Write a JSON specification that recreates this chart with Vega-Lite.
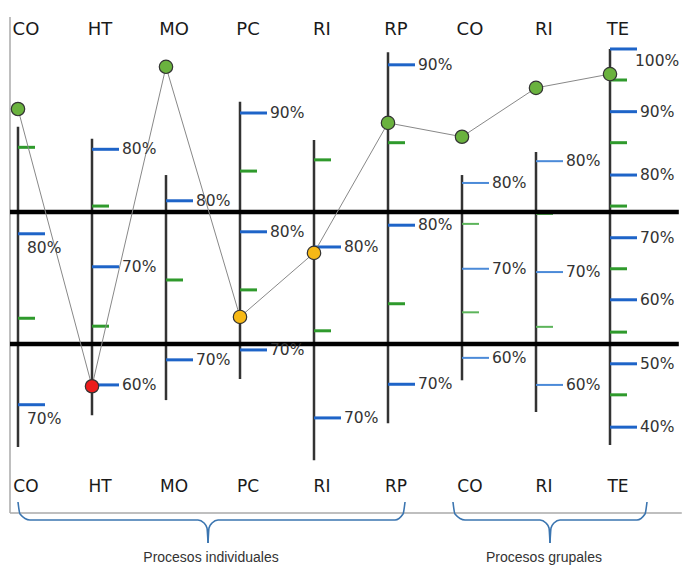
{
  "$schema": "https://vega.github.io/schema/vega-lite/v6.json",
  "width": 700,
  "height": 574,
  "autosize": {"type": "fit", "contains": "padding"},
  "padding": 0,
  "background": "white",
  "config": {"view": {"stroke": null}},
  "datasets": {
    "columnas": [
      {"id": "CO_i", "label": "CO", "idx": 0, "grupo": "Procesos individuales", "lo": 24.4, "hi": 72.9, "valor": 75.6, "nivel": "alto"},
      {"id": "HT", "label": "HT", "idx": 1, "grupo": "Procesos individuales", "lo": 29.2, "hi": 71.1, "valor": 33.6, "nivel": "bajo"},
      {"id": "MO", "label": "MO", "idx": 2, "grupo": "Procesos individuales", "lo": 31.5, "hi": 65.6, "valor": 82.0, "nivel": "alto"},
      {"id": "PC", "label": "PC", "idx": 3, "grupo": "Procesos individuales", "lo": 34.7, "hi": 76.7, "valor": 44.1, "nivel": "medio"},
      {"id": "RI_i", "label": "RI", "idx": 4, "grupo": "Procesos individuales", "lo": 22.4, "hi": 70.9, "valor": 53.8, "nivel": "medio"},
      {"id": "RP", "label": "RP", "idx": 5, "grupo": "Procesos individuales", "lo": 28.0, "hi": 84.2, "valor": 73.5, "nivel": "alto"},
      {"id": "CO_g", "label": "CO", "idx": 6, "grupo": "Procesos grupales", "lo": 34.5, "hi": 65.6, "valor": 71.4, "nivel": "alto"},
      {"id": "RI_g", "label": "RI", "idx": 7, "grupo": "Procesos grupales", "lo": 29.7, "hi": 69.1, "valor": 78.8, "nivel": "alto"},
      {"id": "TE", "label": "TE", "idx": 8, "grupo": "Procesos grupales", "lo": 24.7, "hi": 84.7, "valor": 80.9, "nivel": "alto"}
    ],
    "marcas": [
      {"id": "CO_i", "idx": 0, "kind": "menor", "y": 69.8, "label": ""},
      {"id": "CO_i", "idx": 0, "kind": "mayor", "y": 56.7, "label": "80%"},
      {"id": "CO_i", "idx": 0, "kind": "menor", "y": 43.9, "label": ""},
      {"id": "CO_i", "idx": 0, "kind": "mayor", "y": 30.8, "label": "70%"},
      {"id": "HT", "idx": 1, "kind": "mayor", "y": 69.5, "label": "80%"},
      {"id": "HT", "idx": 1, "kind": "menor", "y": 60.9, "label": ""},
      {"id": "HT", "idx": 1, "kind": "mayor", "y": 51.7, "label": "70%"},
      {"id": "HT", "idx": 1, "kind": "menor", "y": 42.7, "label": ""},
      {"id": "HT", "idx": 1, "kind": "mayor", "y": 33.8, "label": "60%"},
      {"id": "MO", "idx": 2, "kind": "mayor", "y": 61.7, "label": "80%"},
      {"id": "MO", "idx": 2, "kind": "menor", "y": 49.7, "label": ""},
      {"id": "MO", "idx": 2, "kind": "mayor", "y": 37.6, "label": "70%"},
      {"id": "PC", "idx": 3, "kind": "mayor", "y": 75.0, "label": "90%"},
      {"id": "PC", "idx": 3, "kind": "menor", "y": 66.2, "label": ""},
      {"id": "PC", "idx": 3, "kind": "mayor", "y": 57.0, "label": "80%"},
      {"id": "PC", "idx": 3, "kind": "menor", "y": 48.2, "label": ""},
      {"id": "PC", "idx": 3, "kind": "mayor", "y": 39.1, "label": "70%"},
      {"id": "RI_i", "idx": 4, "kind": "menor", "y": 67.9, "label": ""},
      {"id": "RI_i", "idx": 4, "kind": "mayor", "y": 54.7, "label": "80%"},
      {"id": "RI_i", "idx": 4, "kind": "menor", "y": 42.0, "label": ""},
      {"id": "RI_i", "idx": 4, "kind": "mayor", "y": 28.8, "label": "70%"},
      {"id": "RP", "idx": 5, "kind": "mayor", "y": 82.3, "label": "90%"},
      {"id": "RP", "idx": 5, "kind": "menor", "y": 70.5, "label": ""},
      {"id": "RP", "idx": 5, "kind": "mayor", "y": 58.0, "label": "80%"},
      {"id": "RP", "idx": 5, "kind": "menor", "y": 46.1, "label": ""},
      {"id": "RP", "idx": 5, "kind": "mayor", "y": 33.9, "label": "70%"},
      {"id": "CO_g", "idx": 6, "kind": "mayor", "y": 64.4, "label": "80%"},
      {"id": "CO_g", "idx": 6, "kind": "menor", "y": 58.2, "label": ""},
      {"id": "CO_g", "idx": 6, "kind": "mayor", "y": 51.4, "label": "70%"},
      {"id": "CO_g", "idx": 6, "kind": "menor", "y": 44.8, "label": ""},
      {"id": "CO_g", "idx": 6, "kind": "mayor", "y": 37.9, "label": "60%"},
      {"id": "RI_g", "idx": 7, "kind": "mayor", "y": 67.7, "label": "80%"},
      {"id": "RI_g", "idx": 7, "kind": "menor", "y": 59.7, "label": ""},
      {"id": "RI_g", "idx": 7, "kind": "mayor", "y": 50.9, "label": "70%"},
      {"id": "RI_g", "idx": 7, "kind": "menor", "y": 42.6, "label": ""},
      {"id": "RI_g", "idx": 7, "kind": "mayor", "y": 33.8, "label": "60%"},
      {"id": "TE", "idx": 8, "kind": "mayor", "y": 84.7, "label": "100%"},
      {"id": "TE", "idx": 8, "kind": "menor", "y": 80.0, "label": ""},
      {"id": "TE", "idx": 8, "kind": "mayor", "y": 75.2, "label": "90%"},
      {"id": "TE", "idx": 8, "kind": "menor", "y": 70.5, "label": ""},
      {"id": "TE", "idx": 8, "kind": "mayor", "y": 65.6, "label": "80%"},
      {"id": "TE", "idx": 8, "kind": "menor", "y": 60.9, "label": ""},
      {"id": "TE", "idx": 8, "kind": "mayor", "y": 56.1, "label": "70%"},
      {"id": "TE", "idx": 8, "kind": "menor", "y": 51.4, "label": ""},
      {"id": "TE", "idx": 8, "kind": "mayor", "y": 46.7, "label": "60%"},
      {"id": "TE", "idx": 8, "kind": "menor", "y": 41.8, "label": ""},
      {"id": "TE", "idx": 8, "kind": "mayor", "y": 37.0, "label": "50%"},
      {"id": "TE", "idx": 8, "kind": "menor", "y": 32.3, "label": ""},
      {"id": "TE", "idx": 8, "kind": "mayor", "y": 27.4, "label": "40%"}
    ],
    "limites": [
      {"limite": "superior", "y": 60},
      {"limite": "inferior", "y": 40}
    ],
    "llaves": [
      {"tramo": "ind_izq", "o": 0, "x": 0.0, "y": 16.06},
      {"tramo": "ind_izq", "o": 1, "x": 0.027, "y": 14.24},
      {"tramo": "ind_izq", "o": 2, "x": 0.162, "y": 13.33},
      {"tramo": "ind_izq", "o": 3, "x": 2.432, "y": 13.33},
      {"tramo": "ind_izq", "o": 4, "x": 2.514, "y": 12.88},
      {"tramo": "ind_izq", "o": 5, "x": 2.554, "y": 12.12},
      {"tramo": "ind_izq", "o": 6, "x": 2.568, "y": 9.85},
      {"tramo": "ind_der", "o": 0, "x": 2.568, "y": 9.85},
      {"tramo": "ind_der", "o": 1, "x": 2.581, "y": 12.12},
      {"tramo": "ind_der", "o": 2, "x": 2.622, "y": 12.88},
      {"tramo": "ind_der", "o": 3, "x": 2.703, "y": 13.33},
      {"tramo": "ind_der", "o": 4, "x": 5.095, "y": 13.33},
      {"tramo": "ind_der", "o": 5, "x": 5.203, "y": 14.24},
      {"tramo": "ind_der", "o": 6, "x": 5.230, "y": 16.06},
      {"tramo": "grp_izq", "o": 0, "x": 5.878, "y": 16.06},
      {"tramo": "grp_izq", "o": 1, "x": 5.905, "y": 14.24},
      {"tramo": "grp_izq", "o": 2, "x": 6.041, "y": 13.33},
      {"tramo": "grp_izq", "o": 3, "x": 7.054, "y": 13.33},
      {"tramo": "grp_izq", "o": 4, "x": 7.135, "y": 12.88},
      {"tramo": "grp_izq", "o": 5, "x": 7.176, "y": 12.12},
      {"tramo": "grp_izq", "o": 6, "x": 7.189, "y": 9.85},
      {"tramo": "grp_der", "o": 0, "x": 7.189, "y": 9.85},
      {"tramo": "grp_der", "o": 1, "x": 7.203, "y": 12.12},
      {"tramo": "grp_der", "o": 2, "x": 7.243, "y": 12.88},
      {"tramo": "grp_der", "o": 3, "x": 7.324, "y": 13.33},
      {"tramo": "grp_der", "o": 4, "x": 8.365, "y": 13.33},
      {"tramo": "grp_der", "o": 5, "x": 8.473, "y": 14.24},
      {"tramo": "grp_der", "o": 6, "x": 8.500, "y": 16.06}
    ]
  },
  "layer": [
    {
      "data": {"values": [{}]},
      "mark": {"type": "rule", "color": "#aaaaaa", "strokeWidth": 1.5},
      "encoding": {
        "x": {"datum": -0.108, "type": "quantitative", "scale": {"domain": [-0.2432, 9.2162], "nice": false, "zero": false}, "axis": null},
        "y": {"datum": 89.55, "type": "quantitative", "scale": {"domain": [5.152, 92.121], "nice": false, "zero": false}, "axis": null},
        "y2": {"datum": 14.39}
      }
    },
    {
      "data": {"values": [{}]},
      "mark": {"type": "rule", "color": "#aaaaaa", "strokeWidth": 1.5},
      "encoding": {
        "x": {"datum": -0.108, "type": "quantitative", "scale": {"domain": [-0.2432, 9.2162], "nice": false, "zero": false}, "axis": null},
        "x2": {"datum": 8.97},
        "y": {"datum": 14.39, "type": "quantitative", "scale": {"domain": [5.152, 92.121], "nice": false, "zero": false}, "axis": null}
      }
    },
    {
      "data": {"name": "columnas"},
      "mark": {"type": "rule", "color": "#333333", "strokeWidth": 2.5},
      "encoding": {
        "x": {"field": "idx", "type": "quantitative", "scale": {"domain": [-0.2432, 9.2162], "nice": false, "zero": false}, "axis": null},
        "y": {"field": "lo", "type": "quantitative", "scale": {"domain": [5.152, 92.121], "nice": false, "zero": false}, "axis": null},
        "y2": {"field": "hi"}
      }
    },
    {
      "data": {"name": "marcas"},
      "transform": [{"filter": "datum.kind == 'mayor' && datum.idx != 6 && datum.idx != 7"}],
      "mark": {"type": "rule", "color": "#1e64c8", "strokeWidth": 3, "x2Offset": 27},
      "encoding": {
        "x": {"field": "idx", "type": "quantitative", "axis": null},
        "x2": {"field": "idx"},
        "y": {"field": "y", "type": "quantitative", "axis": null}
      }
    },
    {
      "data": {"name": "marcas"},
      "transform": [{"filter": "datum.kind == 'menor' && datum.idx != 6 && datum.idx != 7"}],
      "mark": {"type": "rule", "color": "#2f9a2c", "strokeWidth": 3, "x2Offset": 17},
      "encoding": {
        "x": {"field": "idx", "type": "quantitative", "axis": null},
        "x2": {"field": "idx"},
        "y": {"field": "y", "type": "quantitative", "axis": null}
      }
    },
    {
      "data": {"name": "marcas"},
      "transform": [{"filter": "datum.kind == 'mayor' && (datum.idx == 6 || datum.idx == 7)"}],
      "mark": {"type": "rule", "color": "#4b8ad8", "strokeWidth": 2, "x2Offset": 27},
      "encoding": {
        "x": {"field": "idx", "type": "quantitative", "axis": null},
        "x2": {"field": "idx"},
        "y": {"field": "y", "type": "quantitative", "axis": null}
      }
    },
    {
      "data": {"name": "marcas"},
      "transform": [{"filter": "datum.kind == 'menor' && (datum.idx == 6 || datum.idx == 7)"}],
      "mark": {"type": "rule", "color": "#5cb45a", "strokeWidth": 2, "x2Offset": 17},
      "encoding": {
        "x": {"field": "idx", "type": "quantitative", "axis": null},
        "x2": {"field": "idx"},
        "y": {"field": "y", "type": "quantitative", "axis": null}
      }
    },
    {
      "data": {"name": "limites"},
      "mark": {"type": "rule", "color": "#000000", "strokeWidth": 4.5},
      "encoding": {
        "x": {"datum": -0.108, "type": "quantitative", "axis": null},
        "x2": {"datum": 8.93},
        "y": {"field": "y", "type": "quantitative", "axis": null}
      }
    },
    {
      "data": {"name": "columnas"},
      "mark": {"type": "line", "color": "#888888", "strokeWidth": 1},
      "encoding": {
        "x": {"field": "idx", "type": "quantitative", "axis": null},
        "y": {"field": "valor", "type": "quantitative", "axis": null},
        "order": {"field": "idx"}
      }
    },
    {
      "data": {"name": "columnas"},
      "mark": {"type": "circle", "size": 180, "opacity": 1, "stroke": "#333333", "strokeWidth": 1.2},
      "encoding": {
        "x": {"field": "idx", "type": "quantitative", "axis": null},
        "y": {"field": "valor", "type": "quantitative", "axis": null},
        "color": {"field": "nivel", "type": "nominal", "scale": {"domain": ["alto", "medio", "bajo"], "range": ["#6ab23e", "#f7b916", "#ec1c1c"]}, "legend": null}
      }
    },
    {
      "data": {"name": "marcas"},
      "transform": [{"filter": "datum.label != '' && datum.id != 'CO_i' && datum.label != '100%'"}],
      "mark": {"type": "text", "align": "left", "baseline": "middle", "dx": 30, "font": "DejaVu Sans", "fontSize": 15.5, "color": "#333333"},
      "encoding": {
        "x": {"field": "idx", "type": "quantitative", "axis": null},
        "y": {"field": "y", "type": "quantitative", "axis": null},
        "text": {"field": "label"}
      }
    },
    {
      "data": {"name": "marcas"},
      "transform": [{"filter": "datum.label != '' && datum.id == 'CO_i'"}],
      "mark": {"type": "text", "align": "left", "baseline": "middle", "dx": 9, "dy": 14, "font": "DejaVu Sans", "fontSize": 15.5, "color": "#333333"},
      "encoding": {
        "x": {"field": "idx", "type": "quantitative", "axis": null},
        "y": {"field": "y", "type": "quantitative", "axis": null},
        "text": {"field": "label"}
      }
    },
    {
      "data": {"name": "marcas"},
      "transform": [{"filter": "datum.label == '100%'"}],
      "mark": {"type": "text", "align": "left", "baseline": "middle", "dx": 25, "dy": 12, "font": "DejaVu Sans", "fontSize": 15.5, "color": "#333333"},
      "encoding": {
        "x": {"field": "idx", "type": "quantitative", "axis": null},
        "y": {"field": "y", "type": "quantitative", "axis": null},
        "text": {"field": "label"}
      }
    },
    {
      "data": {"name": "columnas"},
      "mark": {"type": "text", "align": "center", "baseline": "middle", "dx": 8, "font": "DejaVu Sans", "fontSize": 18, "color": "#1a1a1a"},
      "encoding": {
        "x": {"field": "idx", "type": "quantitative", "axis": null},
        "y": {"datum": 87.6, "type": "quantitative", "axis": null},
        "text": {"field": "label"}
      }
    },
    {
      "data": {"name": "columnas"},
      "mark": {"type": "text", "align": "center", "baseline": "middle", "dx": 8, "font": "DejaVu Sans", "fontSize": 17, "color": "#1a1a1a"},
      "encoding": {
        "x": {"field": "idx", "type": "quantitative", "axis": null},
        "y": {"datum": 18.33, "type": "quantitative", "axis": null},
        "text": {"field": "label"}
      }
    },
    {
      "data": {"name": "llaves"},
      "mark": {"type": "line", "color": "#3b75b0", "strokeWidth": 1.6, "interpolate": "monotone"},
      "encoding": {
        "x": {"field": "x", "type": "quantitative", "axis": null},
        "y": {"field": "y", "type": "quantitative", "axis": null},
        "detail": {"field": "tramo"},
        "order": {"field": "o"}
      }
    },
    {
      "data": {"name": "columnas"},
      "transform": [{"aggregate": [{"op": "mean", "field": "idx", "as": "centro"}], "groupby": ["grupo"]}],
      "mark": {"type": "text", "align": "center", "baseline": "middle", "dx": 8, "font": "Liberation Sans", "fontSize": 14, "color": "#333333"},
      "encoding": {
        "x": {"field": "centro", "type": "quantitative", "axis": null},
        "y": {"datum": 7.58, "type": "quantitative", "axis": null},
        "text": {"field": "grupo"}
      }
    }
  ]
}
